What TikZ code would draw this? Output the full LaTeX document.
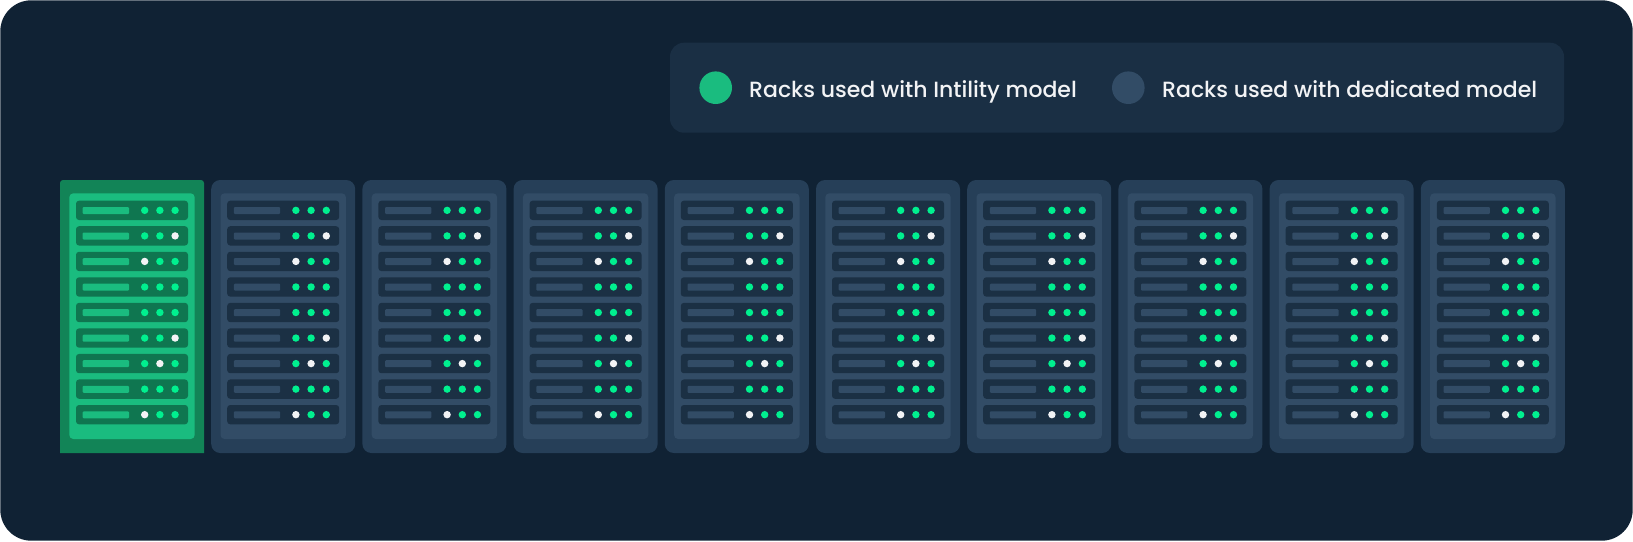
\documentclass[tikz,border=0pt]{standalone}
\usepackage{fontspec}
\setmainfont{Poppins Medium}
\definecolor{pagebg}{HTML}{102234}
\definecolor{legendbg}{HTML}{1A2F44}
\definecolor{greenouter}{HTML}{128457}
\definecolor{greeninner}{HTML}{1ABC7F}
\definecolor{greenrow}{HTML}{0F7650}
\definecolor{blueouter}{HTML}{263F58}
\definecolor{blueinner}{HTML}{324C66}
\definecolor{bluerow}{HTML}{1B3044}
\definecolor{ledgreen}{HTML}{00F08F}
\definecolor{ledwhite}{HTML}{F2F3F5}
\tikzset{
  rackbox/.style={fill=blueouter,rounded corners=9pt},
  rackinner/.style={fill=blueinner,rounded corners=4pt},
  rowbox/.style={fill=bluerow,rounded corners=3pt},
  rowbar/.style={fill=blueinner,rounded corners=1pt},
  led/.style={circle,inner sep=0pt,minimum size=7.4pt},
  legendtext/.style={anchor=base west,inner sep=0pt,text=ledwhite,font=\fontsize{22}{26}\selectfont},
}
\begin{document}
\begin{tikzpicture}[x=1pt,y=-1pt]
\useasboundingbox (0,0) rectangle (1633,541);
\fill[pagebg,rounded corners=31pt] (0.3,0.3) rectangle (1632.7,540.7);
% legend
\fill[legendbg,rounded corners=14pt] (670,42.7) rectangle (1564,132.7);
\node[circle,fill=greeninner,minimum size=32.6pt,inner sep=0pt] (greendot) at (715.7,87.7) {};
\node[legendtext] (greentext) at (749,97.7) {Racks used with Intility model};
\node[circle,fill=blueinner,minimum size=32.6pt,inner sep=0pt] (bluedot) at (1128.3,87.7) {};
\node[legendtext] (bluetext) at (1162,97.7) {Racks used with dedicated model};
% racks
\foreach \r in {0,...,9}{
  \pgfmathsetmacro{\rx}{60+151.2*\r}
  \ifnum\r=0
    \fill[greenouter] (\rx,453) [rounded corners=3pt] -- (\rx,180) -- (\rx+144,180) [sharp corners] -- (\rx+144,453) -- cycle;
    \fill[greeninner,rounded corners=4pt] (\rx+9.3,193.3) rectangle (\rx+134.7,439);
  \else
    \fill[rackbox] (\rx,180) rectangle (\rx+144,453);
    \fill[rackinner] (\rx+9.3,193.3) rectangle (\rx+134.7,439);
  \fi
  \foreach \s/\white in {0/0,1/3,2/1,3/0,4/0,5/3,6/2,7/0,8/1}{
    \pgfmathsetmacro{\sy}{200.7+25.54*\s}
    \ifnum\r=0
      \fill[rowbox,fill=greenrow] (\rx+16,\sy) rectangle (\rx+128,\sy+19.3);
      \fill[rowbar,fill=greeninner] (\rx+22.7,\sy+6.3) rectangle (\rx+69,\sy+13.3);
    \else
      \fill[rowbox] (\rx+16,\sy) rectangle (\rx+128,\sy+19.3);
      \fill[rowbar] (\rx+22.7,\sy+6.3) rectangle (\rx+69,\sy+13.3);
    \fi
    \foreach \d in {1,2,3}{
      \ifnum\d=\white
        \node[led,fill=ledwhite] (led\r\s\d) at (\rx+69.5+15.2*\d,\sy+9.65) {};
      \else
        \node[led,fill=ledgreen] (led\r\s\d) at (\rx+69.5+15.2*\d,\sy+9.65) {};
      \fi
    }
  }
}
\end{tikzpicture}
\end{document}
